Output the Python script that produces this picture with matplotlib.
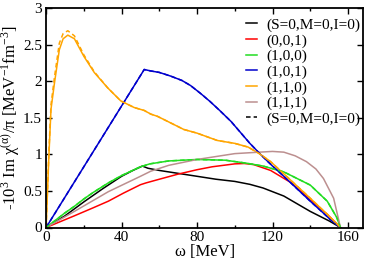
import matplotlib
matplotlib.use('Agg')
import matplotlib.pyplot as plt
from matplotlib.ticker import MultipleLocator

plt.rcParams['font.family'] = ['Liberation Serif', 'DejaVu Serif']
plt.rcParams['mathtext.fontset'] = 'custom'
plt.rcParams['mathtext.rm'] = 'Liberation Serif'
plt.rcParams['mathtext.it'] = 'Liberation Serif:italic'

#
# data (omega in MeV, response in 1e-3 MeV^-1 fm^-3)
#
w_000 = [0, 10, 20, 30, 40, 46, 51, 54, 60, 70, 80, 90, 100, 108, 115, 126, 140, 150, 156]
y_000 = [0, 0.16, 0.35, 0.53, 0.70, 0.78, 0.84, 0.81, 0.78, 0.74, 0.70, 0.66, 0.63, 0.59, 0.54, 0.43, 0.22, 0.09, 0]

w_001 = [0, 15, 25, 33, 41, 50, 53, 60, 70, 80, 88, 100, 105, 110, 119, 130, 140, 149, 156]
y_001 = [0, 0.16, 0.27, 0.36, 0.47, 0.585, 0.61, 0.66, 0.73, 0.79, 0.83, 0.87, 0.875, 0.86, 0.78, 0.61, 0.38, 0.18, 0]

w_100 = [0, 5, 10, 15, 20, 25, 33, 40, 50, 55, 65, 80, 95, 106, 115, 126, 140, 149, 154, 156]
y_100 = [0, 0.10, 0.20, 0.29, 0.39, 0.48, 0.61, 0.71, 0.83, 0.87, 0.91, 0.93, 0.92, 0.88, 0.84, 0.76, 0.58, 0.36, 0.14, 0]

w_101 = [0, 52, 55.5, 60, 66, 72, 76.6, 82, 87, 92, 98, 103, 108, 114, 120, 126, 133, 140, 146, 150.6, 156]
y_101 = [0, 2.16, 2.14, 2.12, 2.07, 2.01, 1.94, 1.83, 1.72, 1.60, 1.45, 1.30, 1.15, 0.99, 0.84, 0.70, 0.53, 0.36, 0.22, 0.11, 0]

w_110 = [0, 1.5, 2.6, 4.4, 7, 9, 11.5, 15, 20, 25.5, 32.6, 39.6, 46.7, 52, 55.5, 59, 73,
         80, 90.7, 100, 107, 113, 119, 129.5, 140, 149, 156]
y_110 = [0, 1.0, 1.62, 1.97, 2.43, 2.58, 2.63, 2.58, 2.34, 2.12, 1.91, 1.73, 1.64, 1.60, 1.55, 1.52, 1.34,
         1.29, 1.19, 1.15, 1.10, 1.01, 0.90, 0.65, 0.40, 0.18, 0]
y_110_dash = [0, 1.05, 1.68, 2.05, 2.52, 2.65, 2.69, 2.62, 2.36, 2.13, 1.91, 1.73, 1.64, 1.60, 1.55, 1.52, 1.34,
              1.29, 1.19, 1.15, 1.10, 1.01, 0.90, 0.65, 0.40, 0.18, 0]

w_111 = [0, 15, 33, 50, 55.5, 65, 80, 90, 100, 113, 120, 126, 132, 138, 143, 147, 152.4, 156]
y_111 = [0, 0.22, 0.49, 0.70, 0.77, 0.85, 0.93, 0.97, 1.01, 1.03, 1.04, 1.03, 0.98, 0.90, 0.80, 0.67, 0.40, 0]

labels = ['(S=0,M=0,I=0)', '(0,0,1)', '(1,0,0)', '(1,0,1)', '(1,1,0)', '(1,1,1)']
colors = ['black', 'red', '#22dd22', '#0000cc', '#ffa500', '#bc8f8f']

#
# plot
#
fig = plt.figure(figsize=(3.66, 2.6), dpi=100)
ax = fig.add_axes([0.126, 0.125, 0.866, 0.844])

lw = 1.1
ax.plot(w_000, y_000, color=colors[0], lw=lw, label=labels[0])
ax.plot(w_001, y_001, color=colors[1], lw=lw, label=labels[1])
ax.plot(w_100, y_100, color=colors[2], lw=lw, label=labels[2])
ax.plot(w_101, y_101, color=colors[3], lw=lw, label=labels[3])
ax.plot(w_110, y_110, color=colors[4], lw=lw, label=labels[4])
ax.plot(w_111, y_111, color=colors[5], lw=lw, label=labels[5])

# second calculation, dashed
ax.plot(w_101, y_101, color=colors[3], lw=lw, ls=(0, (3, 2)))
ax.plot(w_100, y_100, color=colors[2], lw=lw, ls=(0, (3, 2)))
ax.plot(w_110, y_110_dash, color=colors[4], lw=lw, ls=(0, (3, 2)))
ax.plot([], [], color='black', lw=lw, ls=(0, (3, 2)), label=labels[0])

ax.set_xlim(0, 168)
ax.set_ylim(0, 3)
ax.xaxis.set_major_locator(MultipleLocator(40))
ax.xaxis.set_minor_locator(MultipleLocator(20))
ax.set_yticks([0, 0.5, 1, 1.5, 2, 2.5, 3])
ax.set_yticklabels(['0', '0.5', '1', '1.5', '2', '2.5', '3'])
ax.tick_params(which='both', direction='in', top=True, right=True, labelsize=11)
ax.tick_params(axis='x', pad=2.5)
ax.tick_params(axis='y', pad=3)
ax.tick_params(which='major', length=4, width=1)
ax.tick_params(which='minor', length=2, width=1)
for s in ax.spines.values():
    s.set_linewidth(1.3)

ax.set_xlabel('ω [MeV]', fontsize=12, labelpad=0)
ax.set_ylabel('-10$^{3}$ Im χ$^{\\mathrm{(α)}}$/π [MeV$^{-1}$fm$^{-3}$]', fontsize=12, labelpad=1)

ax.legend(loc='upper right', bbox_to_anchor=(0.99, 0.955), frameon=False, fontsize=11,
          handlelength=0.7, handletextpad=0.6, labelspacing=0.12, borderaxespad=0, borderpad=0)

fig.savefig('out.png', dpi=100)
